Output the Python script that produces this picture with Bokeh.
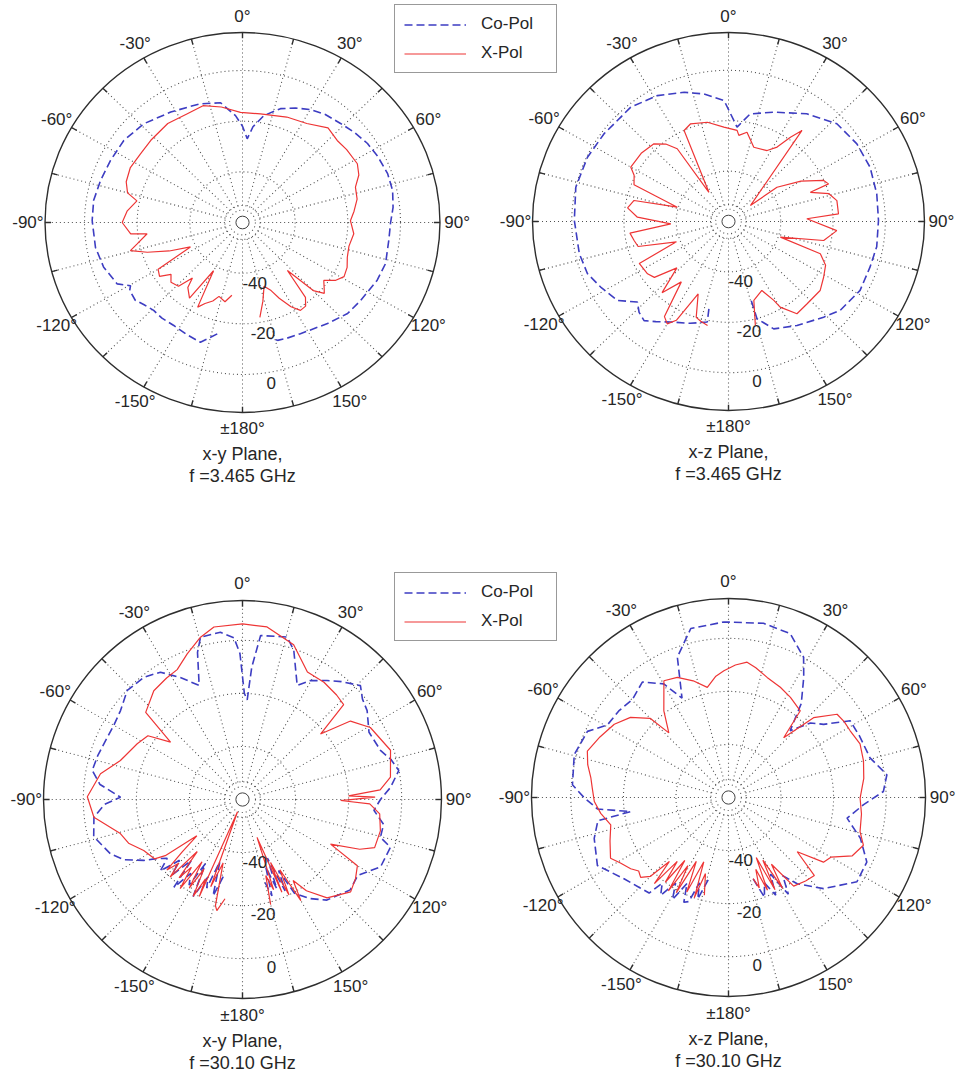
import numpy as np
from bokeh.plotting import figure
from bokeh.models import Range1d, Legend, LegendItem
from bokeh.core.properties import value
from bokeh.embed import file_html
from bokeh.resources import INLINE

W, H = 962, 1077
FONT = "Liberation Sans"
TXT = "#262626"
CO_COLOR = "#3d3dc2"
X_COLOR = "#ee3535"
GRID = "#505050"

# Radial scale: the centre of each polar axis sits at -60 dB, the outer circle at +15 dB
DB_FLOOR = -60.0
DB_OUTER = 15.0
RING_DB = [-40, -20, 0]
RING_LABELS = ["-40", "-20", "0"]
ANGLE_TICKS = [0, 30, 60, 90, 120, 150, 180, -150, -120, -90, -60, -30]
ANGLE_LABELS = ["0°", "30°", "60°", "90°", "120°", "150°", "±180°",
                "-150°", "-120°", "-90°", "-60°", "-30°"]

# ---- x-y plane, 3.465 GHz ----
XY_S_CO_ANG = [-167.7, -161.3, -154, -147.3, -141, -135.8, -131, -127, -122, -120.4, -117, -112,
               -108.5, -100, -89.2, -81.2, -72.9, -63.9, -54.3, -43.9, -32, -24, -18.8, -10, -3.6,
               0, 3.1, 6, 10.9, 17.8, 24, 30, 36.4, 43.6, 50, 56.7, 63, 70.7, 77.5, 84, 90.4, 97,
               106.6, 114, 124.5, 132, 141, 153.4, 160, 164, 167]
XY_S_CO_DB = [-15, -10.1, -11, -11.7, -11.4, -11.6, -10.5, -9, -9.5, -10.7, -6.6, -5.5,
              -4.4, -3.3, -2.9, -2.8, -3.6, -4.2, -4.5, -5.9, -8.6, -10, -10.5, -12, -17.7,
              -22, -26.9, -22, -17, -12.8, -10.5, -8.5, -7, -6, -4.6, -3.2, -2.4, -1.6, -1.6, -2.5,
              -3.8, -4, -3.3, -4, -5.6, -6.3, -8.7, -10.9, -11.3, -11.6, -13]
XY_S_X_ANG = [-172, -168, -163, -160, -156, -153, -150, -146, -141, -139, -136, -131, -127, -124,
              -120, -116, -112, -108, -104.6, -102, -97, -96, -90, -84, -78, -75, -70, -63, -55,
              -47, -36, -26, -18, -10, -1, 9, 22, 32, 41, 48, 54, 62, 67, 72, 78, 84, 89, 96, 103,
              109, 114, 119, 123, 126.5, 130, 132, 135, 138, 141, 144, 147.6, 151, 155, 158, 162,
              166, 170]
XY_S_X_DB = [-31, -28, -29.5, -27, -25, -22.5, -38, -24, -27, -31, -25, -24, -26, -22,
             -23, -38, -30, -22, -16, -19, -23.5, -17.3, -14.3, -16, -19, -14.8, -13, -12.2, -12.7,
             -12.4, -11.7, -12.2, -11.5, -13.7, -16.5, -16.6, -15.1, -13.9, -10.5, -11.6, -11.1,
             -10.6, -12, -14.9, -15.5, -17.4, -19, -17.5, -18.5, -17.9, -16.5, -15.9, -18, -21.6,
             -19.5, -18.2, -22, -34.5, -22, -19.2, -18.9, -22, -27, -31, -33.5, -28, -22]

# ---- x-z plane, 3.465 GHz ----
XZ_S_CO_ANG = [-167.8, -168.5, -160, -151, -145, -140.6, -136.5, -132.5, -126.4, -118, -111,
               -102.6, -89.6, -76.9, -64.7, -53.8, -39.5, -28.6, -18.3, -10.5, -2, 5, 11, 21.7,
               35, 46.9, 57.9, 68.3, 79, 89.6, 100, 108.5, 118.5, 129.6, 136.2, 147.6, 157.9,
               164.2, 164.5]
XZ_S_CO_DB = [-24.5, -19.3, -17, -14.4, -11.5, -9.1, -10.3, -12.7, -7.2, -4.6, -2.2,
              -1.5, -1, 0, -0.3, -1, -1.2, -3.1, -6, -8.5, -12, -22.4, -16.5, -13.3,
              -7.8, -3.2, -2, -1.7, -2.2, -2.6, -2.4, -2.9, -2.7, -4.6, -7.4, -11.1, -14,
              -19.9, -27.4]
XZ_S_X_ANG = [-169, -165, -162, -158, -153, -150, -147, -143, -138, -133, -128, -123.8, -116,
              -112, -106, -101.8, -97, -92.4, -87.2, -82, -77, -73.8, -68, -63.1, -60, -51,
              -42.8, -38, -34.2, -32.9, -25.2, -20.5, -11.6, -2.7, 5.2, 6.6, 11.3, 18.2, 27.7,
              32.2, 35.3, 37.9, 53, 53.8, 60, 65.9, 68.7, 69.7, 74, 78.7, 85.9, 87.9, 95, 101.7,
              107.4, 110, 115, 121.3, 128, 137.5, 144.4, 149.8, 151, 155, 162.8, 166]
XZ_S_X_DB = [-18, -19, -20, -29, -16, -13.1, -15, -30, -22, -33, -24, -22.7, -22,
             -38.5, -24, -23.1, -22, -37.9, -25.1, -21, -22.9, -39.6, -21, -19.5, -16.8, -17,
             -18, -21, -25.1, -46.2, -20.1, -18.6, -19.8, -22.5, -23.7, -25.6, -23.9, -29, -28.2,
             -25.1, -19, -14.2, -49.5, -37, -28, -20.1, -18.9, -26.6, -20, -17.7, -17.8, -30,
             -18.4, -22.8, -39.2, -22.6, -19, -17.4, -15.5, -15.6, -15, -20.7, -24.2, -29.8,
             -27.2, -17.5]

# ---- x-y plane, 30.10 GHz ----
XY_K_CO_ANG = [-166, -163, -160, -158, -156, -153, -150, -148, -145, -142, -140, -137, -134,
               -131, -128, -124, -121.7, -117, -112.4, -104, -96.8, -92, -88.9, -84, -79, -73,
               -68, -60, -53.9, -46.6, -38.9, -32.8, -27, -20.8, -17, -14.5, -7.5, -3, -1, 1,
               2.7, 4, 6.3, 15.4, 19, 25.6, 29.7, 35.4, 40, 46, 50, 54.5, 62, 70.4, 75, 79.5,
               85.3, 90, 94.7, 100, 105.3, 107.9, 116, 123.4, 130, 140, 146, 151, 153, 155, 157,
               159, 161, 163, 165]
XY_K_CO_DB = [-30, -22, -35, -24, -28, -19, -32, -22, -26, -18, -30, -21, -27,
              -19, -24, -20, -16.3, -10, -6.2, -2.2, -3.6, -8, -14, -6, -2.3, -3,
              -3.7, -4, -3.1, -0.2, -0.8, -2.9, -8.4, -14, -2, 3.2, 3.6, 1, -5, -20,
              -22.4, -10, 2.2, 3.5, -0.6, -12.3, -8.4, -5, -2, 1.8, -1, -2.3, -6, -4.8, -2, -0.1,
              -4, -8, -10.3, -6, -6.1, -1.4, -2.1, -8, -7, -10.5, -15, -19.6, -30, -22, -36,
              -24, -33, -22, -28]
XY_K_X_ANG = [-170, -167, -165.7, -163, -160, -158, -156, -155, -153, -151, -149, -147, -145,
              -143, -141, -139, -137, -135, -133, -131, -128.5, -126, -124, -117.3, -111, -105.6,
              -96.8, -89, -79.7, -72.3, -62.1, -56, -51.4, -48, -39.2, -32, -26.7, -20.8, -14.5,
              -9.4, 0, 8.1, 18.3, 27, 34.8, 42, 46.8, 50, 54, 60.6, 71.6, 81.4, 86, 88, 89, 90.6,
              92, 96, 102.8, 110, 113, 116.9, 120, 125, 130.5, 139.3, 145, 148, 150, 152, 154,
              156, 157, 159, 161, 163, 165]
XY_K_X_DB = [-22, -17, -18.7, -35, -25, -55, -20, -27, -19, -30, -21, -32, -19,
             -28, -22, -34, -20, -26, -21, -30, -38, -24, -20, -18.1, -14, -12.2,
             -3.6, -1.5, -5.6, -11.7, -15.1, -17, -25.3, -10.9, -7.1, -6, -5.2, -1.3, 3.2,
             5.9, 6.2, 5.7, 1.4, -6.1, -6.2, -7, -7.7, -21.6, -9.7, -4.7, -1.2, -3.6, -8, -20,
             -10, -23, -12, -8, -6.7, -7, -12, -22.8, -10, -8, -6.4, -11.1, -18, -24, -16, -30,
             -20, -34, -22, -44.7, -24, -30, -19]

# ---- x-z plane, 30.10 GHz ----
XZ_K_CO_ANG = [-166, -163, -161, -159, -156.7, -154, -151, -148, -145, -142, -140, -135, -127.6,
               -117.2, -106.8, -100, -98.1, -95, -90, -85.4, -74.6, -65.1, -59.3, -52, -44.6, -37,
               -29.9, -25.3, -20.2, -12.7, -1.5, 11.5, 20.8, 28.4, 32.3, 38, 43, 48, 52.7, 58,
               65, 74.5, 81.9, 87.8, 93, 99.8, 107, 114.8, 123, 133.5, 141.2, 145, 148, 151, 154,
               157, 160, 163]
XZ_K_CO_DB = [-28, -20, -26, -18, -17, -24, -16, -22, -15, -19, -13, -12, -9.8,
              -3.9, -6.6, -9.5, -22.4, -10, -5, -0.4, 0.9, -0.8, -6.4, -7, -8, -5.5,
              -10.6, -18.6, -3.6, 5.3, 6.2, 7, 6.1, 0.1, -6.4, -15, -25.6, -18, -14.5, -5.4,
              -5, -4.1, 0.9, -1, -8.5, -14.2, -7.5, -2, -1.7, -10.1, -18.3, -24, -17, -27, -19,
              -25, -20, -28]
XZ_K_X_ANG = [-166, -163, -161, -158.8, -156, -153, -151, -149, -147, -145, -143, -141, -139,
              -137, -135, -132, -129, -125.8, -121, -117, -110, -103, -97, -91.7, -86, -82, -77,
              -72, -65, -57.6, -51, -45, -43, -37, -29.2, -23.3, -17, -11, -6, -2.1, 3, 7.9, 12,
              18, 25.4, 32, 39.9, 43, 47.1, 52.8, 57, 61.5, 68, 75, 82, 90.3, 97, 104.4, 109.3,
              115, 120, 124, 128, 132, 137, 143.4, 147, 149, 151, 153, 155, 157, 159, 161, 163]
XZ_K_X_DB = [-22, -30, -20, -34, -21, -33, -19, -30, -18, -31, -20, -29, -17,
             -27, -18, -15, -16, -14.1, -12, -9.6, -12, -14, -11, -8.9, -8, -7.1, -5,
             -3.5, -6, -8.5, -12, -17.8, -26.7, -19.1, -9.6, -10.7, -14, -17.7, -14, -12.2, -10,
             -8.5, -10, -12.4, -14, -15.5, -17.4, -29.2, -15.8, -8.1, -7.5, -7.3, -6, -6.8, -8,
             -9.9, -9, -8.3, -5.6, -8, -15, -16.4, -26.8, -16, -17, -18.4, -30, -20, -33, -21,
             -35, -22, -31, -24, -28]

# Each panel: centre (px), px per dB horizontally / vertically, caption lines, series
PANELS = [
    dict(cx=242, cy=222, sx=2.633, sy=2.533, plane="x-y Plane,", freq="f =3.465 GHz",
         co=(XY_S_CO_ANG, XY_S_CO_DB), xp=(XY_S_X_ANG, XY_S_X_DB)),
    dict(cx=728, cy=221, sx=2.613, sy=2.52, plane="x-z Plane,", freq="f =3.465 GHz",
         co=(XZ_S_CO_ANG, XZ_S_CO_DB), xp=(XZ_S_X_ANG, XZ_S_X_DB)),
    dict(cx=242, cy=799, sx=2.653, sy=2.653, plane="x-y Plane,", freq="f =30.10 GHz",
         co=(XY_K_CO_ANG, XY_K_CO_DB), xp=(XY_K_X_ANG, XY_K_X_DB)),
    dict(cx=728, cy=797, sx=2.627, sy=2.653, plane="x-z Plane,", freq="f =30.10 GHz",
         co=(XZ_K_CO_ANG, XZ_K_CO_DB), xp=(XZ_K_X_ANG, XZ_K_X_DB)),
]


def polar_xy(panel, ang_deg, radius):
    """Map compass angles (0 at top, clockwise) and radial units to page pixels."""
    a = np.radians(np.asarray(ang_deg, dtype=float))
    r = np.asarray(radius, dtype=float)
    return panel["cx"] + panel["sx"] * r * np.sin(a), panel["cy"] - panel["sy"] * r * np.cos(a)


def db_to_r(db):
    return np.clip(np.asarray(db, dtype=float) - DB_FLOOR, 0, None)


R_OUT = DB_OUTER - DB_FLOOR
DOTS = "1 3"

p = figure(width=W, height=H, x_range=Range1d(0, W), y_range=Range1d(H, 0),
           output_backend="svg", toolbar_location=None, min_border=0,
           x_axis_type=None, y_axis_type=None)
p.grid.visible = False
p.outline_line_color = None
p.background_fill_color = "white"
p.border_fill_color = "white"

txt_kw = dict(text_font=value(FONT), text_color=TXT, text_align="center",
              text_baseline="middle")

co_renderers, x_renderers = [], []
for pn in PANELS:
    cx, cy, sx, sy = pn["cx"], pn["cy"], pn["sx"], pn["sy"]

    # dotted range rings and the small rings round the origin
    ring_r = [r for r in (np.array(RING_DB) - DB_FLOOR)] + [4.9, 6.7]
    p.ellipse(x=[cx] * len(ring_r), y=[cy] * len(ring_r),
              width=[2 * sx * r for r in ring_r], height=[2 * sy * r for r in ring_r],
              fill_color=None, line_color=GRID, line_width=1.1, line_dash=DOTS)
    p.ellipse(x=[cx], y=[cy], width=[2 * sx * 2.5], height=[2 * sy * 2.5],
              fill_color=None, line_color="#444444", line_width=1)

    # dotted spokes every 15 degrees
    sp = np.arange(0, 360, 15)
    x0, y0 = polar_xy(pn, sp, np.full(sp.size, 6.7))
    x1, y1 = polar_xy(pn, sp, np.full(sp.size, R_OUT))
    p.segment(x0=x0, y0=y0, x1=x1, y1=y1, line_color=GRID, line_width=1.1, line_dash=DOTS)

    # outer circle with inward ticks
    p.ellipse(x=[cx], y=[cy], width=[2 * sx * R_OUT], height=[2 * sy * R_OUT],
              fill_color=None, line_color="#2e2e2e", line_width=1.4)
    tx0, ty0 = polar_xy(pn, sp, np.full(sp.size, R_OUT))
    tx1, ty1 = polar_xy(pn, sp, np.full(sp.size, R_OUT - 2.3))
    p.segment(x0=tx0, y0=ty0, x1=tx1, y1=ty1, line_color="#2e2e2e", line_width=1.4)

    # pattern traces
    cxs, cys = polar_xy(pn, pn["co"][0], db_to_r(pn["co"][1]))
    rc = p.line(cxs, cys, line_color=CO_COLOR, line_width=1.6, line_dash="8 4")
    xxs, xys = polar_xy(pn, pn["xp"][0], db_to_r(pn["xp"][1]))
    rx = p.line(xxs, xys, line_color=X_COLOR, line_width=1.2)
    co_renderers.append(rc)
    x_renderers.append(rx)

    # angle labels
    lx, ly = polar_xy(pn, ANGLE_TICKS, np.full(len(ANGLE_TICKS), 81.5))
    p.text(x=lx, y=ly, text=ANGLE_LABELS, text_font_size="17px", **txt_kw)

    # radial (dB) labels
    rx_, ry_ = polar_xy(pn, np.full(len(RING_DB), 171.0), np.array(RING_DB) - DB_FLOOR)
    p.text(x=rx_, y=ry_, text=RING_LABELS, text_font_size="17px", x_offset=4, y_offset=10,
           **txt_kw)

    # caption
    base = cy + sy * 81.5
    p.text(x=[cx, cx], y=[base + 25, base + 47], text=[pn["plane"], pn["freq"]],
           text_font_size="18px", **txt_kw)

legend_kw = dict(border_line_color="#333333", border_line_width=1, background_fill_alpha=1,
                 label_text_font=FONT, label_text_font_size="17px", label_text_color=TXT,
                 glyph_width=62, glyph_height=17, label_height=17, label_standoff=15,
                 label_width=66, padding=9, spacing=9, margin=0)
for idx, top in ((0, 73), (2, 641)):
    lg = Legend(items=[LegendItem(label="Co-Pol", renderers=[co_renderers[idx]]),
                       LegendItem(label="X-Pol", renderers=[x_renderers[idx]])],
                location=(394, H - top), **legend_kw)
    p.add_layout(lg)

open("out.html", "w").write(file_html(p, INLINE))
